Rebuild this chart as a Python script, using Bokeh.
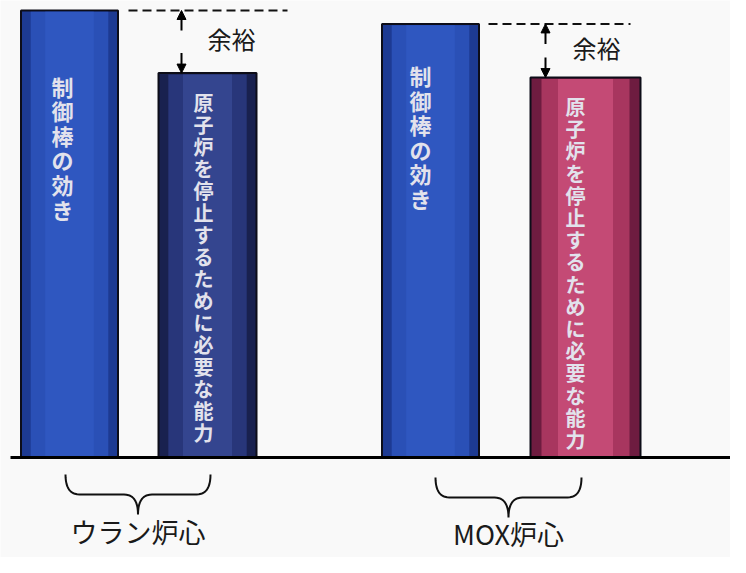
from bokeh.plotting import figure
from bokeh.models import Range1d, Arrow, NormalHead
from bokeh.core.properties import value
from bokeh.embed import file_html
from bokeh.resources import INLINE
import numpy as np

# ---- data ----
cores = ["ウラン炉心", "MOX炉心"]
rod_label = "制御棒の効き"
need_label = "原子炉を停止するために必要な能力"
margin_label = "余裕"
rod_worth = [100, 97]        # 制御棒の効き (relative)
shutdown_need = [86, 85]     # 原子炉を停止するために必要な能力 (relative)

# ---- layout (screen-like coordinates) ----
W, H = 730, 557
K = 4.47          # px per value unit
BASE = 457        # baseline pixel row
def ypx(px):
    return (BASE - px) / K
def topx(v):
    return BASE - v * K

p = figure(width=W, height=H, output_backend="svg", toolbar_location=None,
           x_range=Range1d(0, W), y_range=Range1d(ypx(H), ypx(0)),
           min_border=0)
p.xaxis.visible = False
p.yaxis.visible = False
p.xgrid.visible = False
p.ygrid.visible = False
p.outline_line_color = None
p.background_fill_color = "#f9f9f9"
p.border_fill_color = "#f9f9f9"

rod_x = [69, 430]
rod_w = [97, 97]
need_x = [207, 585]
need_w = [98, 110]

rod_colors = ("#1d3a92", "#2a50b6", "#2f57c0")
need_colors = [("#19214f", "#28367a", "#34458f"),
               ("#6e1c40", "#a8365f", "#c44a75")]

def shaded_bar(x, w, v, cols):
    p.vbar(x=[x], width=w, top=[v], bottom=0, fill_color=cols[0],
           line_color="#0d0d18", line_width=2)
    p.vbar(x=[x], width=w * 0.8, top=[v - 0.3], bottom=0.3,
           fill_color=cols[1], line_color=None)
    p.vbar(x=[x], width=w * 0.5, top=[v - 0.3], bottom=0.3,
           fill_color=cols[2], line_color=None)

def vtext(x, start_px, spacing, s, size):
    ys = [ypx(start_px + i * spacing) for i in range(len(s))]
    p.text(x=[x] * len(s), y=ys, text=list(s), text_align="center",
           text_baseline="middle", text_color="#e2e2ec",
           text_font=value("Noto Sans CJK JP"), text_font_style="bold",
           text_font_size=f"{size}px")

rod_text_off = [75, 51]
need_text_off = [29, 29]
rod_text_dx = [-7, -10]
need_text_dx = [-4, -10]
need_spacing = [22.0, 22.2]

for i in range(2):
    shaded_bar(rod_x[i], rod_w[i], rod_worth[i], rod_colors)
    shaded_bar(need_x[i], need_w[i], shutdown_need[i], need_colors[i])
    vtext(rod_x[i] + rod_text_dx[i], topx(rod_worth[i]) + rod_text_off[i], 24.6, rod_label, 22)
    vtext(need_x[i] + need_text_dx[i], topx(shutdown_need[i]) + need_text_off[i],
          need_spacing[i], need_label, 20)

# baseline
p.segment(x0=[10], y0=[0], x1=[746], y1=[0], line_color="black", line_width=3)

# margin indicators
dash_x0 = [128, 488]
dash_x1 = [287, 630]
arrow_x = [181, 545]
label_x = [231, 596]
for i in range(2):
    yr = rod_worth[i]
    yn = shutdown_need[i]
    p.segment(x0=[dash_x0[i]], y0=[yr], x1=[dash_x1[i]], y1=[yr],
              line_color="#111111", line_width=2, line_dash="9 5")
    p.add_layout(Arrow(end=NormalHead(size=9, fill_color="black", line_color="black"),
                       x_start=arrow_x[i], y_start=ypx(topx(yr) + 20),
                       x_end=arrow_x[i], y_end=yr, line_width=2, line_color="black"))
    p.add_layout(Arrow(end=NormalHead(size=9, fill_color="black", line_color="black"),
                       x_start=arrow_x[i], y_start=ypx(topx(yn) - 20),
                       x_end=arrow_x[i], y_end=yn, line_width=2, line_color="black"))
    p.text(x=[label_x[i]], y=[(yr + yn) / 2 + 0.8], text=[margin_label],
           text_align="center", text_baseline="middle", text_color="#1a1a1a",
           text_font=value("Noto Sans CJK JP"), text_font_size="24px")

# braces under each core
def brace(x0, x1, top_px, mid_px, tip_px):
    xc = (x0 + x1) / 2
    t = np.linspace(0, 1, 12)
    def qb(a, b, c):
        return ((1 - t) ** 2)[:, None] * np.array(a) + (2 * (1 - t) * t)[:, None] * np.array(b) + (t ** 2)[:, None] * np.array(c)
    r = 14
    segs = [qb((x0, top_px), (x0, mid_px), (x0 + r, mid_px)),
            np.array([[x0 + r, mid_px], [xc - r, mid_px]]),
            qb((xc - r, mid_px), (xc, mid_px), (xc, tip_px)),
            qb((xc, tip_px), (xc, mid_px), (xc + r, mid_px)),
            np.array([[xc + r, mid_px], [x1 - r, mid_px]]),
            qb((x1 - r, mid_px), (x1, mid_px), (x1, top_px))]
    pts = np.vstack(segs)
    p.line(x=pts[:, 0], y=[ypx(v) for v in pts[:, 1]], line_color="#111111", line_width=2)
    return xc

brace_x0 = [65, 435]
brace_x1 = [210, 581]
brace_top = [474, 477]
label_y = [531, 533]
for i in range(2):
    xc = brace(brace_x0[i], brace_x1[i], brace_top[i], brace_top[i] + 20, brace_top[i] + 40)
    p.text(x=[xc], y=[ypx(label_y[i])], text=[cores[i]], text_align="center",
           text_baseline="middle", text_color="#1a1a1a",
           text_font=value("Noto Sans CJK JP"), text_font_size="27px")

open("out.html", "w").write(file_html(p, INLINE))
